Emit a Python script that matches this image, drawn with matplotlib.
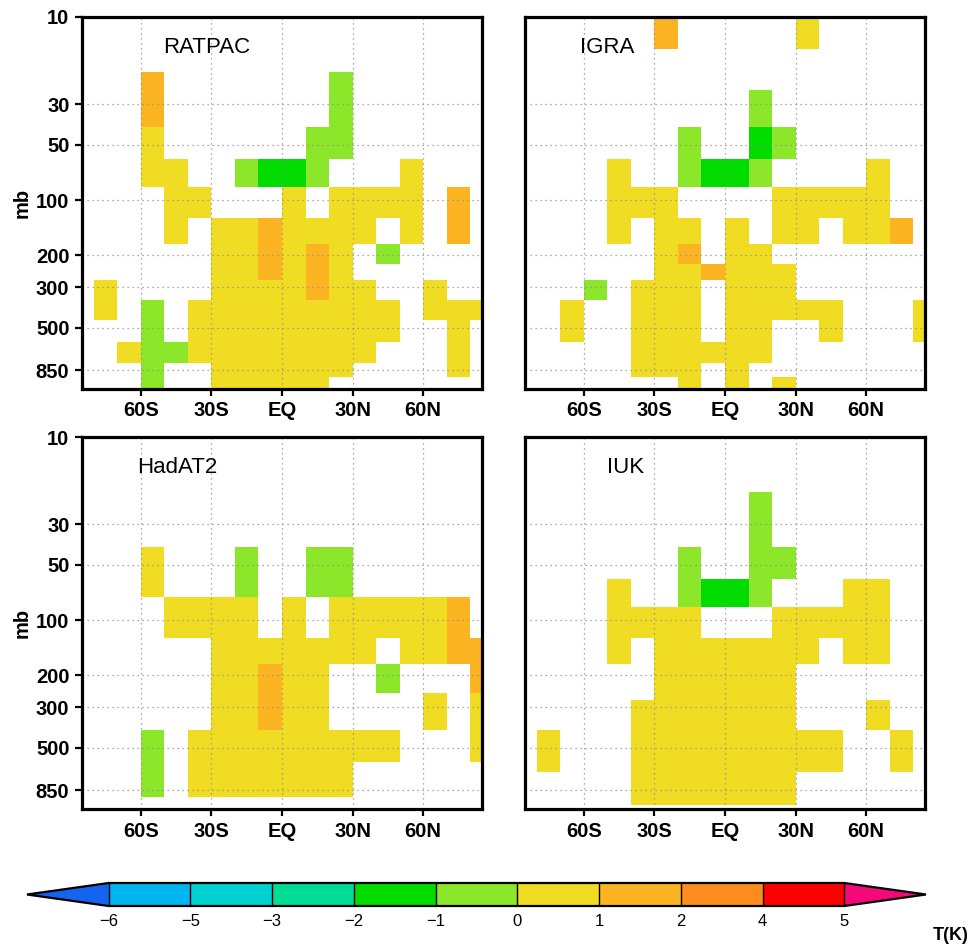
import numpy as np
import matplotlib
matplotlib.use("Agg")
import matplotlib.pyplot as plt
from matplotlib.colors import ListedColormap, BoundaryNorm
from matplotlib.ticker import NullLocator
from matplotlib.cm import ScalarMappable

# 10 degree latitude boxes, 90S..90N
lat_edges = np.arange(-90, 91, 10)
lat_ticks = [-60, -30, 0, 30, 60]
lat_labels = ['60S', '30S', 'EQ', '30N', '60N']
p_ticks = [10, 30, 50, 100, 200, 300, 500, 850]

# shading classes (one char per box, '.' = no data)
cls_value = {'G': -1.5, 'g': -0.5, 'y': 0.5, 'o': 1.5}

ratpac_lev = [30, 50, 70, 100, 150, 200, 250, 300, 400, 500, 700, 850, 1000]
ratpac_rows = [
    "...o.......g......",
    "...y......gg......",
    "...yy..gGGg...y...",
    "....yy...y.yyyy.o.",
    "....y.yyoyyyy.y.o.",
    "......yyoyoy.g....",
    "......yyoyoy......",
    ".y....yyyyoyy..y..",
    ".y.g.yyyyyyyyy.yyy",
    "...g.yyyyyyyyy..y.",
    "..yggyyyyyyyy...y.",
    "...g..yyyyyy....y.",
    "...g..yyyyy.......",
]

igra_lev = [10, 20, 30, 50, 70, 100, 150, 200, 250, 300, 400, 500, 700, 850, 1000]
igra_rows = [
    "......o.....y.....",
    "..................",
    "..........g.......",
    ".......g..Gg......",
    "....y..gGGg....y..",
    "....yyy....yyyyy..",
    "....y.yy.y.yy.yyo.",
    "......yo.yy.......",
    "......yyoyyy......",
    "...g.yyy.yyy......",
    "..y..yyy.yyyyy...y",
    "..y..yyy.yy..y...y",
    ".....yyyyyy.......",
    ".....yyy.y........",
    ".......y.y.y......",
]

hadat_lev = [30, 50, 100, 150, 200, 300, 500, 700, 850]
hadat_rows = [
    "..................",
    "...y...g..gg......",
    "....yyyy.y.yyyyyo.",
    "......yyyyyyy.yyoo",
    "......yyoyy..g...o",
    "......yyoyy....y.y",
    "...g.yyyyyyyyy...y",
    "...g.yyyyyyy......",
    "...g.yyyyyyy......",
]

iuk_lev = [30, 50, 70, 100, 150, 200, 250, 300, 500, 850]
iuk_rows = [
    "..........g.......",
    ".......g..gg......",
    "....y..gGGg...yy..",
    "....yyyy...yyyyy..",
    "....y.yyyyyyy.yy..",
    "......yyyyyy......",
    "......yyyyyy......",
    ".....yyyyyyy...y..",
    ".y...yyyyyyyyy..y.",
    ".....yyyyyyy......",
]

names = ['RATPAC', 'IGRA', 'HadAT2', 'IUK']
levels = [ratpac_lev, igra_lev, hadat_lev, iuk_lev]
rows = [ratpac_rows, igra_rows, hadat_rows, iuk_rows]
name_x = [0.2025, 0.138, 0.139, 0.205]

# colour scale
bounds = [-6, -5, -3, -2, -1, 0, 1, 2, 4, 5]
colors = ['#00b4f0', '#00d2d2', '#00dc96', '#00dc00', '#8ce62a',
          '#f0dc22', '#fdb422', '#fd8c1e', '#ff0000']
cmap = ListedColormap(colors).with_extremes(under='#1464f0', over='#f5087a')
norm = BoundaryNorm(bounds, cmap.N)


def to_grid(rr):
    return np.array([[cls_value.get(c, np.nan) for c in r] for r in rr])


def p_edges(lev):
    lev = np.array(lev, dtype=float)
    mid = (lev[1:] + lev[:-1]) / 2
    top = lev[0] - (mid[0] - lev[0])
    bot = lev[-1] + (lev[-1] - mid[-1])
    return np.concatenate([[top], mid, [bot]])


fig = plt.figure(figsize=(9.76, 9.47), dpi=100)

W, H = 976.0, 947.0
boxes = [(82, 17), (525, 17), (82, 437), (525, 437)]

for i in range(4):
    x0, y0 = boxes[i]
    ax = fig.add_axes([x0 / W, 1 - (y0 + 372) / H, 400 / W, 372 / H])
    data = np.ma.masked_invalid(to_grid(rows[i]))
    ax.pcolormesh(lat_edges, p_edges(levels[i]), data, cmap=cmap, norm=norm,
                  edgecolors='none', antialiased=False, zorder=1)
    ax.set_yscale('log')
    ax.set_ylim(1078, 10)
    ax.set_xlim(-85, 85)
    ax.yaxis.set_minor_locator(NullLocator())
    ax.set_xticks(lat_ticks)
    ax.set_xticklabels(lat_labels)
    ax.set_yticks(p_ticks)
    ax.set_yticklabels([str(p) for p in p_ticks])
    ax.grid(True, linestyle=(0, (1, 3)), color='#909090', linewidth=0.9, zorder=2)
    ax.set_axisbelow(False)
    ax.tick_params(direction='out', length=5, width=1.6, pad=4)
    for lab in ax.get_xticklabels() + ax.get_yticklabels():
        lab.set_fontfamily('Liberation Sans')
        lab.set_fontweight('bold')
        lab.set_fontsize(14.5)
    if i % 2 == 0:
        ax.set_ylabel('mb', fontsize=14.5, fontweight='bold',
                      family='Liberation Sans', labelpad=3)
    else:
        ax.tick_params(axis='y', left=False, labelleft=False)
    for s in ax.spines.values():
        s.set_linewidth(2.3)
        s.set_zorder(5)
    ax.text(name_x[i], 0.903, names[i], transform=ax.transAxes,
            fontsize=16, family='Liberation Sans', va='baseline', ha='left')

# colour bar
cax = fig.add_axes([27 / W, 1 - 906 / H, 899 / W, 23 / H])
cb = fig.colorbar(ScalarMappable(norm=norm, cmap=cmap), cax=cax,
                  orientation='horizontal', extend='both', extendfrac=0.111,
                  drawedges=True, spacing='uniform', ticks=bounds)
cb.outline.set_linewidth(1.6)
cb.dividers.set_linewidth(1.0)
cb.dividers.set_color('black')
cax.tick_params(length=0, labelsize=12, pad=6)
for lab in cax.get_xticklabels():
    lab.set_fontfamily('Liberation Sans')
cb.set_ticklabels([str(b).replace('-', '\u2212') for b in bounds])

fig.text(933 / W, 1 - 940 / H, 'T(K)', fontsize=13, fontweight='bold',
         family='Liberation Sans', va='baseline', ha='left')

fig.savefig('out.png', dpi=100)
